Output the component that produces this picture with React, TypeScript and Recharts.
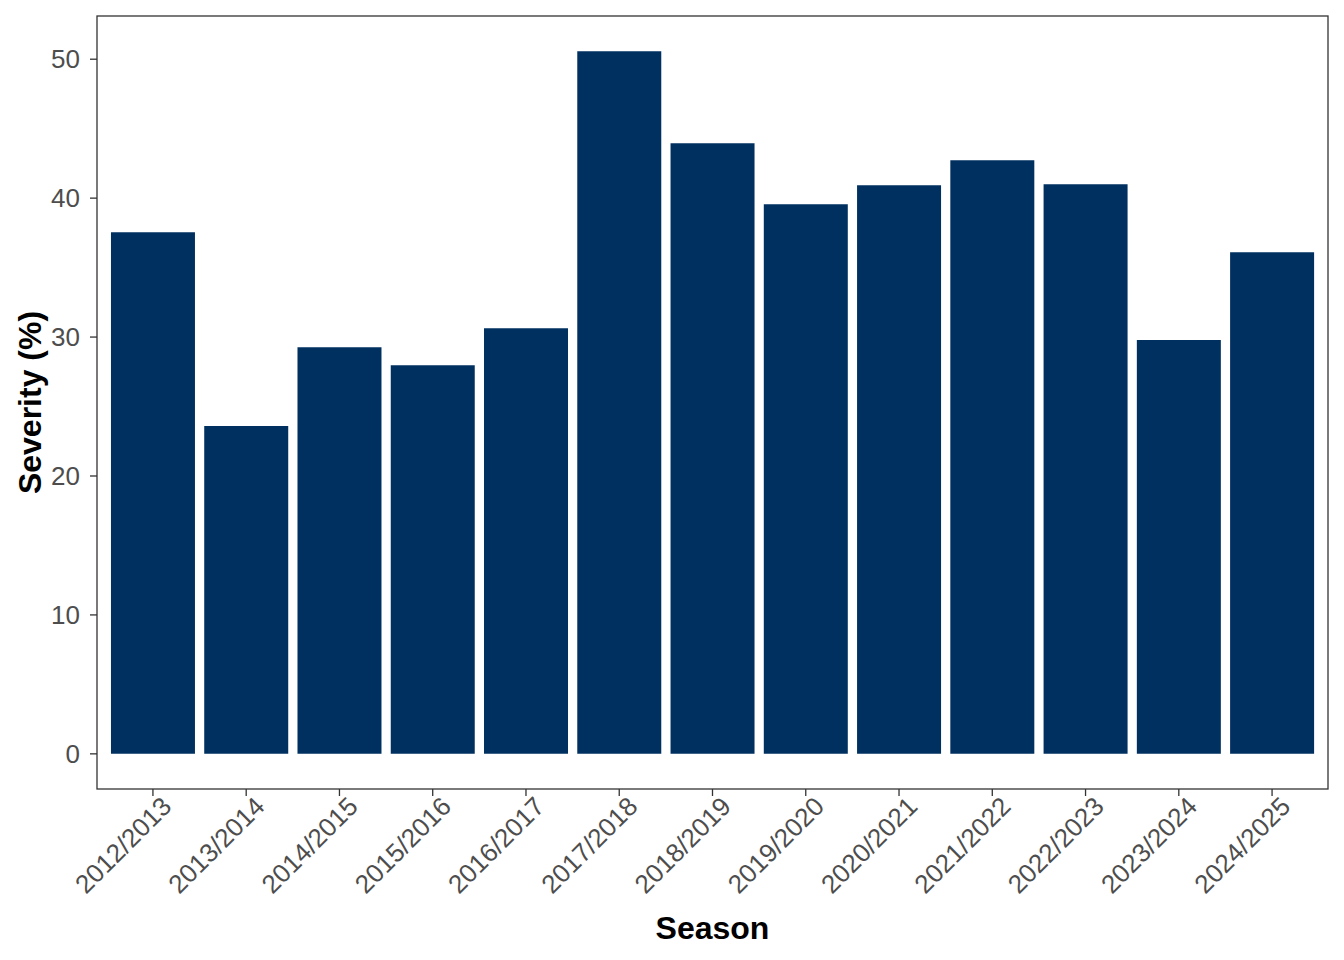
import * as React from "react";
import { Bar, BarChart, Label, XAxis, YAxis } from "recharts";

const seasons = [
  "2012/2013",
  "2013/2014",
  "2014/2015",
  "2015/2016",
  "2016/2017",
  "2017/2018",
  "2018/2019",
  "2019/2020",
  "2020/2021",
  "2021/2022",
  "2022/2023",
  "2023/2024",
  "2024/2025",
];

const severity = [37.55, 23.59, 29.27, 27.98, 30.64, 50.58, 43.95, 39.56, 40.93, 42.73, 41.0, 29.78, 36.11];

const yTicks = [0, 10, 20, 30, 40, 50];

const data = seasons.map((season, i) => ({ season, severity: severity[i] }));

const FONT = "'Liberation Sans', Arial, sans-serif";
const TICK_COLOR = "#4d4d4d";
const LINE_COLOR = "#333333";

// panel box (plot area) in page pixels
const PANEL = { left: 97, top: 16, right: 1328, bottom: 789 };

const SeasonTick = ({ x, y, payload }: any) => {
  const tx = x + 20;
  const ty = y + 12;
  return (
    <text
      x={tx}
      y={ty}
      transform={`rotate(-45, ${tx}, ${ty})`}
      textAnchor="end"
      fontSize={26}
      fontFamily={FONT}
      fill={TICK_COLOR}
    >
      {payload.value}
    </text>
  );
};

export default function App() {
  return (
    <div style={{ position: "absolute", left: 0, top: 0, width: 1344, height: 960, background: "#fff" }}>
      <BarChart
        width={1344}
        height={960}
        data={data}
        margin={{ top: PANEL.top, right: 1344 - PANEL.right, left: PANEL.left - 60, bottom: 960 - PANEL.bottom - 120 }}
        barCategoryGap="5%"
      >
        <XAxis
          dataKey="season"
          height={120}
          padding={{ left: 9.3, right: 9.3 }}
          interval={0}
          tickSize={7}
          tickMargin={0}
          tickLine={{ stroke: LINE_COLOR, strokeWidth: 1.3 }}
          axisLine={false}
          tick={<SeasonTick />}
        >
          <Label
            content={({ viewBox }: any) => (
              <text
                x={viewBox.x + viewBox.width / 2}
                y={939}
                textAnchor="middle"
                fontSize={32}
                fontWeight="bold"
                fontFamily={FONT}
                fill="#000"
              >
                Season
              </text>
            )}
          />
        </XAxis>
        <YAxis
          width={60}
          domain={[-2.53, 53.11]}
          ticks={yTicks}
          allowDataOverflow
          tickSize={7}
          tickMargin={10}
          tickLine={{ stroke: LINE_COLOR, strokeWidth: 1.3 }}
          axisLine={false}
          tick={{ fontSize: 26, fontFamily: FONT, fill: TICK_COLOR }}
        >
          <Label
            content={({ viewBox }: any) => {
              const cy = viewBox.y + viewBox.height / 2;
              return (
                <text
                  x={30}
                  y={cy}
                  transform={`rotate(-90, 30, ${cy})`}
                  textAnchor="middle"
                  dominantBaseline="central"
                  fontSize={32}
                  fontWeight="bold"
                  fontFamily={FONT}
                  fill="#000"
                >
                  Severity (%)
                </text>
              );
            }}
          />
        </YAxis>
        <Bar dataKey="severity" fill="#003060" isAnimationActive={false} />
      </BarChart>
      <svg
        width={1344}
        height={960}
        style={{ position: "absolute", left: 0, top: 0, pointerEvents: "none" }}
      >
        <rect
          x={PANEL.left}
          y={PANEL.top}
          width={PANEL.right - PANEL.left}
          height={PANEL.bottom - PANEL.top}
          fill="none"
          stroke={LINE_COLOR}
          strokeWidth={1.3}
        />
      </svg>
    </div>
  );
}
